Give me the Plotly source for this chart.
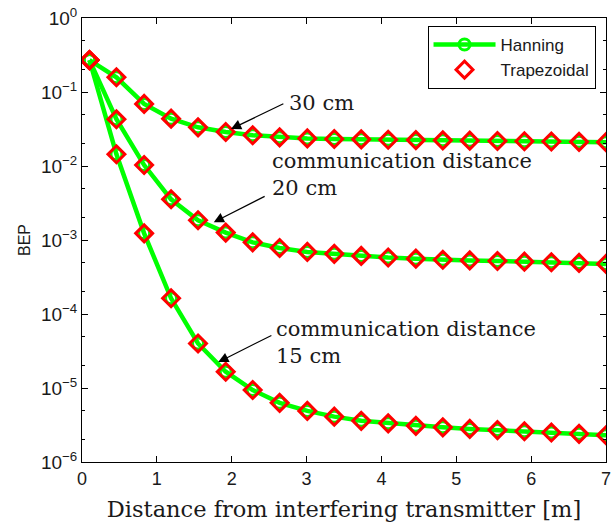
import plotly.graph_objects as go

distance_m = [0.1, 0.46, 0.83, 1.19, 1.55, 1.92, 2.28, 2.64, 3.01, 3.37,
              3.73, 4.09, 4.46, 4.82, 5.18, 5.55, 5.91, 6.27, 6.64, 7.0]

bep_30cm = [0.27, 0.158, 0.069, 0.0436, 0.0333, 0.0288, 0.026, 0.0244, 0.0236, 0.0232,
            0.0229, 0.0226, 0.0224, 0.0222, 0.022, 0.0218, 0.0216, 0.0214, 0.0212, 0.021]
bep_20cm = [0.27, 0.0428, 0.0103, 0.00355, 0.00185, 0.00126, 0.00093, 0.00078, 0.00069, 0.00065,
            0.00061, 0.00058, 0.00056, 0.00054, 0.00053, 0.00052, 0.00051, 0.0005, 0.00049, 0.000475]
bep_15cm = [0.27, 0.0144, 0.00123, 0.000163, 4.0e-5, 1.66e-5, 9.4e-6, 6.3e-6, 4.9e-6, 4.1e-6,
            3.6e-6, 3.33e-6, 3.08e-6, 2.94e-6, 2.8e-6, 2.7e-6, 2.6e-6, 2.5e-6, 2.4e-6, 2.3e-6]

series = [bep_30cm, bep_20cm, bep_15cm]
y_tickvals = [1e-6, 1e-5, 1e-4, 1e-3, 1e-2, 1e-1, 1]
y_ticktext = ["10<sup>−6</sup>", "10<sup>−5</sup>", "10<sup>−4</sup>", "10<sup>−3</sup>",
              "10<sup>−2</sup>", "10<sup>−1</sup>", "10<sup>0</sup>"]
x_tickvals = [0, 1, 2, 3, 4, 5, 6, 7]

GREEN = "#00ff00"
RED = "#ff0000"
SERIF = "DejaVu Serif"
SANS = "Liberation Sans, Arial, sans-serif"
INK = "#1a1a1a"

fig = go.Figure()
for i, ys in enumerate(series):
    fig.add_trace(go.Scatter(
        x=distance_m, y=ys, mode="lines+markers", name="Hanning",
        legendgroup="han", showlegend=(i == 0),
        line=dict(color=GREEN, width=4.5),
        marker=dict(symbol="circle-open", size=11, color=GREEN, line=dict(width=3, color=GREEN)),
    ))
for i, ys in enumerate(series):
    fig.add_trace(go.Scatter(
        x=distance_m, y=ys, mode="markers", name="Trapezoidal",
        legendgroup="trap", showlegend=(i == 0),
        marker=dict(symbol="diamond-open", size=13, color=RED, line=dict(width=3, color=RED)),
    ))

# arrows: tip at (x, y), tail at (ax, ay), data coords (log10 units for y)
arrows = [
    (1.99, -1.50, 2.71, -1.15),
    (1.76, -2.76, 2.46, -2.40),
    (1.82, -4.65, 2.55, -4.28),
]
for (x, y, ax, ay) in arrows:
    fig.add_annotation(x=x, y=y, ax=ax, ay=ay, xref="x", yref="y", axref="x", ayref="y",
                       text="", showarrow=True, arrowhead=2, arrowsize=1.7, arrowwidth=1.2,
                       arrowcolor="black")

texts = [
    (2.74, -1.15, "30 cm"),
    (2.51, -2.12, "communication distance<br>20 cm"),
    (2.57, -4.39, "communication distance<br>15 cm"),
]
for (x, y, t) in texts:
    fig.add_annotation(x=x, y=y, xref="x", yref="y", text=t, showarrow=False,
                       xanchor="left", yanchor="middle", align="left",
                       font=dict(family=SERIF, size=21, color=INK))

fig.update_layout(
    width=616, height=531,
    margin=dict(l=82, r=5, t=18, b=69),
    plot_bgcolor="white", paper_bgcolor="white",
    font=dict(family=SANS, size=17, color=INK),
    showlegend=True,
    legend=dict(x=0.98, y=0.982, xanchor="right", yanchor="top",
                bgcolor="white", bordercolor="black", borderwidth=1,
                font=dict(family=SANS, size=17, color=INK),
                itemwidth=62, tracegroupgap=0),
)
fig.update_xaxes(
    range=[0, 7], tickvals=x_tickvals, ticks="inside", ticklen=6, tickcolor="black",
    showline=True, linecolor="black", linewidth=1, mirror="ticks", showgrid=False, zeroline=False,
    ticklabeloverflow="allow",
    tickfont=dict(family=SANS, size=18, color=INK),
    title=dict(text="Distance from interfering transmitter [m]",
               font=dict(family=SERIF, size=22.5, color=INK), standoff=13),
)
fig.update_yaxes(
    type="log", range=[-6, 0], tickvals=y_tickvals, ticktext=y_ticktext,
    ticks="inside", ticklen=6, tickcolor="black",
    minor=dict(ticks="inside", ticklen=3, tickcolor="black", showgrid=False),
    showline=True, linecolor="black", linewidth=1, mirror="ticks", showgrid=False, zeroline=False,
    ticklabeloverflow="allow",
    tickfont=dict(family=SANS, size=19, color=INK),
    title=dict(text="BEP", font=dict(family=SANS, size=16, color=INK), standoff=6),
)

fig.write_html("out.html")
